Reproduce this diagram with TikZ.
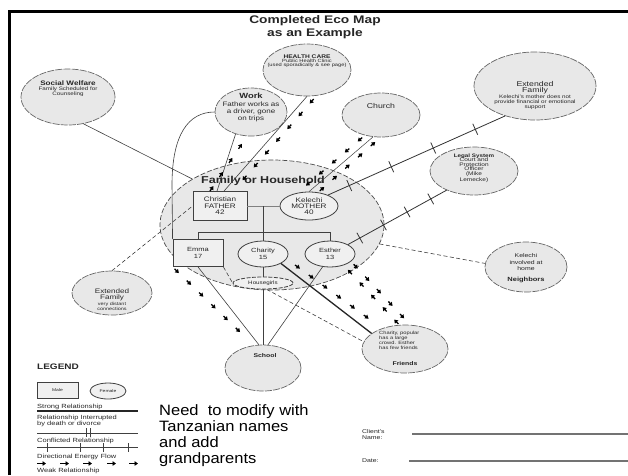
\documentclass[tikz,border=0pt]{standalone}
\usepackage{fontspec}
\setmainfont{Liberation Sans}[FakeStretch=1.25]
\newfontfamily\notefont{Liberation Sans}[FakeStretch=1.1]
\usetikzlibrary{shapes.geometric,decorations.markings,arrows.meta}
\newcommand{\fsz}[2]{\fontsize{#1}{#2}\selectfont}
\tikzset{
  bub/.style={ellipse, draw=black!60, fill=black!9, line width=0.7pt, dash pattern=on 7pt off 1.2pt, inner sep=0pt},
  inner/.style={ellipse, draw=black!75, fill=black!6, line width=0.8pt, inner sep=0pt},
  pbox/.style={rectangle, draw=black!75, fill=black!6, line width=0.9pt, inner sep=0pt},
  tx/.style={align=center, inner sep=0pt, text=black!85},
  lnk/.style={draw=black!75, line width=0.6pt},
  strong/.style={draw=black!85, line width=1.3pt},
  weak/.style={draw=black!75, line width=0.6pt, dash pattern=on 4pt off 2.5pt},
  flowchain/.style={decorate, decoration={markings, mark=between positions 0.06 and 0.96 step 17pt with {\draw[black, line width=1.3pt, -{Triangle[length=3.5pt,width=4.5pt]}] (-4pt,0) -- (2pt,0);}}},
  conflict/.style={draw=black!80, line width=0.8pt, postaction={decorate, decoration={markings, mark=between positions 0.12 and 0.9 step #1 with {\draw[black!80, line width=0.8pt] (0,-6pt) -- (0,6pt);}}}},
}
\begin{document}
\begin{tikzpicture}[x=1pt,y=-1pt]
\useasboundingbox (0,0) rectangle (628,475);
\fill[white] (0,0) rectangle (628,475);
\draw[line width=2.6pt, black] (9.5,475) -- (9.5,11.5) -- (628,11.5);

% title
\node[tx, font=\bfseries\fsz{11}{13}] (title) at (315,27) {Completed Eco Map\\as an Example};

% family
\node[bub, minimum width=224, minimum height=130, draw=black!70, dash pattern=on 5pt off 2pt] (fam) at (272,225) {};
\node[tx, font=\bfseries\fsz{10}{11}] (famt) at (263,181) {Family or Household};
\node[pbox, minimum width=54, minimum height=29] (father) at (220,206) {};
\node[tx, font=\fsz{6.5}{6.6}] (fathert) at (father) {Christian\\FATHER\\42};
\node[inner, minimum width=58, minimum height=28] (mother) at (309,206) {};
\node[tx, font=\fsz{6.5}{6.3}] (mothert) at (mother) {Kelechi\\MOTHER\\40};
\node[pbox, minimum width=50, minimum height=27] (emma) at (198,253) {};
\node[tx, font=\fsz{6}{7.5}] (emmat) at (emma) {Emma\\17};
\node[inner, minimum width=50, minimum height=26] (charity) at (263,254) {};
\node[tx, font=\fsz{6}{7.5}] (charityt) at (charity) {Charity\\15};
\node[inner, minimum width=50, minimum height=26] (esther) at (330,254) {};
\node[tx, font=\fsz{6}{7.5}] (esthert) at (esther) {Esther\\13};
\node[inner, minimum width=60, minimum height=12, dash pattern=on 4pt off 1.5pt] (hg) at (263,283) {};
\node[tx, font=\fsz{5}{5}] (hgt) at (hg) {Housegirls};

% outer systems
\node[bub, minimum width=94, minimum height=56] (social) at (68,97) {};
\node[tx, font=\bfseries\fsz{6.5}{7}] (socialt) at (68,83) {Social Welfare};
\node[tx, font=\fsz{5}{5.2}] (socialb) at (68,91.5) {Family Scheduled for\\Counseling};

\node[bub, minimum width=88, minimum height=52] (hc) at (307,70) {};
\node[tx, font=\bfseries\fsz{5.3}{6}] (hct) at (307,57) {HEALTH CARE};
\node[tx, font=\fsz{4.6}{4.4}] (hcb) at (307,63.2) {Public Health Clinic\\(used sporadically \& see page)};

\node[bub, minimum width=72, minimum height=48] (work) at (251,112) {};
\node[tx, font=\bfseries\fsz{7.5}{8}] (workt) at (251,96) {Work};
\node[tx, font=\fsz{6.4}{7}] (workb) at (251,111.5) {Father works as\\a driver, gone\\on trips};

\node[bub, minimum width=78, minimum height=44] (church) at (381,115) {};
\node[tx, font=\fsz{7}{7}] (churcht) at (381,106) {Church};

\node[bub, minimum width=122, minimum height=68] (extfam) at (535,86) {};
\node[tx, font=\fsz{7}{6.5}] (extfamt) at (535,87.5) {Extended\\Family};
\node[tx, font=\fsz{5}{5}] (extfamb) at (535,102) {Kelechi's mother does not\\provide financial or emotional\\support};

\node[bub, minimum width=88, minimum height=48] (legal) at (474,171) {};
\node[tx, font=\bfseries\fsz{5}{5}] (legalt) at (474,156.5) {Legal System};
\node[tx, font=\fsz{5.2}{4.6}] (legalb) at (474,170.2) {Court and\\Protection\\Officer\\(Mike\\Lemecke)};

\node[bub, minimum width=82, minimum height=50] (neighbors) at (526,267) {};
\node[tx, font=\fsz{5.5}{6.5}] (neighborsb) at (526,262.5) {Kelechi\\involved at\\home};
\node[tx, font=\bfseries\fsz{6}{6}] (neighborst) at (526,280) {Neighbors};

\node[bub, minimum width=86, minimum height=48] (friends) at (405,349) {};
\node[tx, font=\fsz{4.6}{5}, align=left, anchor=west] (friendsb) at (379,340.5) {Charity, popular\\has a large\\crowd. Esther\\has few friends};
\node[tx, font=\bfseries\fsz{5.5}{6}] (friendst) at (405,363.5) {Friends};

\node[bub, minimum width=80, minimum height=44] (extleft) at (112,293) {};
\node[tx, font=\fsz{6.5}{6}] (extleftt) at (112,295) {Extended\\Family};
\node[tx, font=\fsz{4.4}{5}] (extleftb) at (112,306.5) {very distant\\connections};

\node[bub, minimum width=76, minimum height=46] (school) at (263,368) {};
\node[tx, font=\bfseries\fsz{5.5}{6}] (schoolt) at (265,356) {School};

% family tree lines
\coordinate (pm) at (263,206);
\coordinate (sib) at (263,232);
\draw[lnk, draw=black!50] (father.east) -- (mother.west);
\draw[lnk] (pm) -- (charity.north);
\draw[lnk] (emma.north |- sib) -- (esther.north |- sib);
\draw[lnk] (emma.north) -- (emma.north |- sib);
\draw[lnk] (esther.north) -- (esther.north |- sib);
\draw[lnk] (charity.south) -- (hg.north);
\draw[lnk] (hg.south) -- (school.north);

% connectors
\draw[lnk] (emma.south) -- (school.100);
\path[flowchain] (emma.south west) -- (school.112);
\draw[lnk] (esther.240) -- (school.78);
\draw[weak] (emma.south east) -- (hg.west);
\draw[weak] (hg.-60) -- (friends.170);
\draw[strong] (charity.south east) -- (friends.155);
\path[flowchain] ([xshift=12]charity.south east) -- (friends.138);
\path[flowchain] ([xshift=-6]friends.north) -- ([xshift=-6]esther.south east);
\path[flowchain] ([xshift=5]esther.south east) -- ([xshift=5]friends.north);
\draw[conflict=27pt] (esther.north east) -- (legal.215);
\draw[conflict=46pt] (mother.30) -- (extfam.225);
\draw[weak] (fam.350) -- (neighbors.175);
\draw[lnk, line width=0.5pt] (church.250) -- (mother.north);
\path[flowchain] ([xshift=-10]church.250) -- ([xshift=-10]mother.north);
\path[flowchain] ([xshift=10]mother.north) -- ([xshift=8]church.250);
\draw[lnk] (hc.south) -- ([xshift=4]father.north);
\path[flowchain] ([xshift=9]hc.south) -- ([xshift=13]father.north);
\draw[lnk] (work.235) -- ([xshift=-3]father.north);
\path[flowchain] ([xshift=-10]father.north) -- ([xshift=-4]work.south);
\draw[lnk] (social.300) -- (fam.150);
\draw[weak] (extleft.north) -- (father.west);
\draw[lnk] (work.west) .. controls (188,112) and (172,135) .. (172,185) -- (emma.north west);

% legend
\node[tx, font=\bfseries\fsz{8}{9}, anchor=west] (legt) at (37,367) {LEGEND};
\node[pbox, minimum width=41, minimum height=16] (lmale) at (57.5,390) {};
\node[tx, font=\fsz{4}{4}] (lmalet) at (lmale) {Male};
\node[inner, minimum width=36, minimum height=16] (lfem) at (108,391) {};
\node[tx, font=\fsz{4}{4}] (lfemt) at (lfem) {Female};
\node[tx, font=\fsz{6}{6}, anchor=west] (lstrong) at (37,406.5) {Strong Relationship};
\coordinate (s1) at (37,411); \coordinate (s2) at (138,411);
\draw[strong] (s1) -- (s2);
\node[tx, font=\fsz{6}{6}, align=left, anchor=west] (linter) at (37,420.5) {Relationship Interrupted\\by death or divorce};
\coordinate (i1) at (37,433); \coordinate (i2) at (138,433);
\draw[lnk, line width=0.9pt] (i1) -- (i2);
\draw[lnk, line width=0.9pt] (86.5,428) -- (86.5,437) (90.5,428) -- (90.5,437);
\node[tx, font=\fsz{6}{6}, anchor=west] (lconf) at (37,441) {Conflicted Relationship};
\coordinate (c1) at (37,447.5); \coordinate (c2) at (138,447.5);
\draw[lnk, line width=0.9pt] (c1) -- (c2);
\foreach \tx in {47,80,103,128} \draw[lnk, line width=0.9pt] (\tx,443) -- (\tx,452);
\node[tx, font=\fsz{6}{6}, anchor=west] (lflow) at (37,457) {Directional Energy Flow};
\foreach \ax in {37,60,83,107,129} \draw[black, line width=1.6pt, -{Triangle[length=3.5pt,width=4.5pt]}] (\ax,463.5) -- (\ax+9,463.5);
\node[tx, font=\fsz{6}{6}, anchor=west] (lweak) at (37,471) {Weak Relationship};

% note
\node[tx, font=\notefont\fsz{15}{16.3}, align=left, anchor=north west, text=black] (note) at (159,404) {Need\ \ to modify with\\Tanzanian names\\and add\\grandparents};

% client
\node[tx, font=\fsz{5.5}{6}, align=left, anchor=west] (client) at (362,435) {Client's\\Name:};
\coordinate (cl1) at (412,434); \coordinate (cl2) at (628,434);
\draw[draw=black!55, line width=1.3pt] (cl1) -- (cl2);
\node[tx, font=\fsz{5.5}{6}, anchor=west] (date) at (362,461) {Date:};
\coordinate (d1) at (409,461); \coordinate (d2) at (628,461);
\draw[draw=black!55, line width=1.3pt] (d1) -- (d2);
\end{tikzpicture}
\end{document}
